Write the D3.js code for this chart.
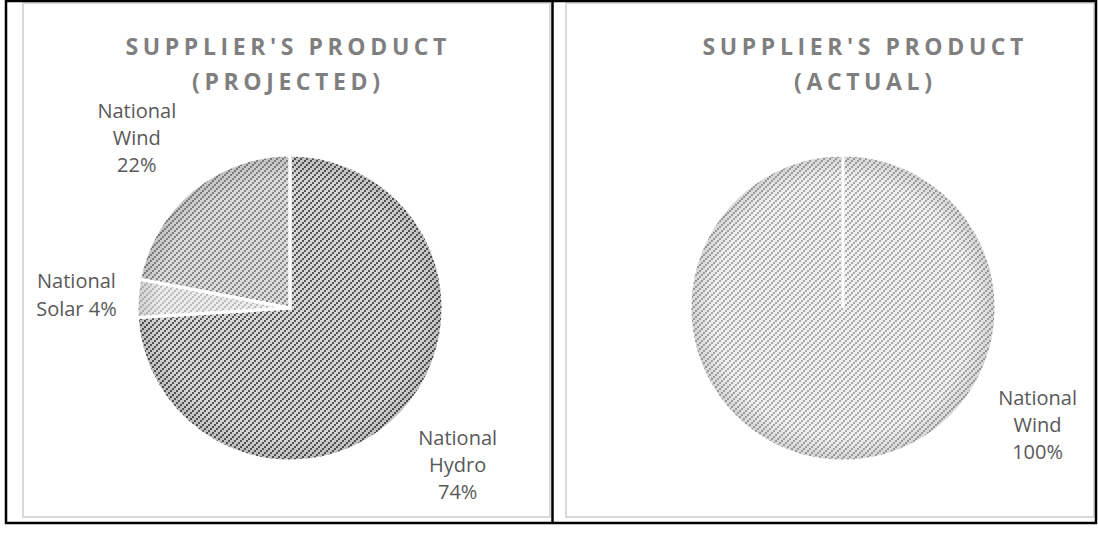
<!DOCTYPE html>
<html lang="en">
    <head>
        <meta charset="UTF-8" />
        <title>Supplier's product</title>
        <script src="https://d3js.org/d3.v7.min.js"></script>
        <style>
            body { margin: 0; background: #fff; }
            text { font-family: "Open Sans", "DejaVu Sans", sans-serif; }
        </style>
    </head>
    <body>
        <div class="canvas"></div>
        <script>
            // data
            const projectedLabels = ["National Hydro", "National Solar", "National Wind"];
            const projectedValues = [74, 4, 22];
            const actualLabels = ["National Wind"];
            const actualValues = [100];
            const titles = [["SUPPLIER'S PRODUCT", "(PROJECTED)"], ["SUPPLIER'S PRODUCT", "(ACTUAL)"]];

            const width = 1098;
            const height = 556;

            const svg = d3
                .select(".canvas")
                .append("svg")
                .attr("width", width)
                .attr("height", height);

            const defs = svg.append("defs");

            // striped fills, 6x6 tile with 2x2 steps going "/"
            function stripes(id, fg, bg) {
                const p = defs
                    .append("pattern")
                    .attr("id", id)
                    .attr("patternUnits", "userSpaceOnUse")
                    .attr("width", 6)
                    .attr("height", 6);
                p.append("rect").attr("width", 6).attr("height", 6).attr("fill", bg);
                [[4, 0], [2, 2], [0, 4]].forEach(([x, y]) => {
                    p.append("rect")
                        .attr("x", x)
                        .attr("y", y)
                        .attr("width", 2)
                        .attr("height", 2)
                        .attr("fill", fg);
                });
            }
            stripes("p-hydro", "#555555", "#d6d6d6");
            stripes("p-wind", "#878787", "#dadada");
            stripes("p-solar", "#bcbcbc", "#ececec");
            stripes("p-wind2", "#a8a8a8", "#f1f1f1");

            // soft edge shading like the office bevel
            const shade = defs
                .append("radialGradient")
                .attr("id", "shade")
                .attr("gradientUnits", "objectBoundingBox");
            shade.append("stop").attr("offset", "0.85").attr("stop-color", "#000").attr("stop-opacity", 0);
            shade.append("stop").attr("offset", "1").attr("stop-color", "#000").attr("stop-opacity", 0.12);

            // panels
            const panels = [
                { x0: 23, x1: 550, titleX: 286, cx: 290, cy: 308 },
                { x0: 566, x1: 1094, titleX: 863, cx: 843, cy: 308 },
            ];
            const panelTop = 3;
            const panelBottom = 517;
            const radius = 153;

            panels.forEach((p) => {
                svg.append("rect")
                    .attr("x", p.x0)
                    .attr("y", panelTop)
                    .attr("width", p.x1 - p.x0)
                    .attr("height", panelBottom - panelTop)
                    .attr("fill", "#fff")
                    .attr("stroke", "#d9d9d9")
                    .attr("stroke-width", 2);
            });

            // outer table lines
            const frame = svg.append("g").attr("stroke", "#000").attr("stroke-width", 2.5);
            frame.append("line").attr("x1", 5).attr("x2", 1097).attr("y1", 1).attr("y2", 1);
            frame.append("line").attr("x1", 5).attr("x2", 1097).attr("y1", 523).attr("y2", 523);
            frame.append("line").attr("x1", 6).attr("x2", 6).attr("y1", 0).attr("y2", 524);
            frame.append("line").attr("x1", 552.5).attr("x2", 552.5).attr("y1", 0).attr("y2", 524);
            frame.append("line").attr("x1", 1096).attr("x2", 1096).attr("y1", 0).attr("y2", 524);

            // titles
            const spacing = 4.6;
            panels.forEach((p, i) => {
                const t = svg
                    .append("text")
                    .attr("y", 55)
                    .attr("text-anchor", "middle")
                    .attr("fill", "#7f7f7f")
                    .style("font-size", "23px")
                    .style("font-weight", "bold")
                    .style("letter-spacing", spacing + "px");
                titles[i].forEach((line, j) => {
                    t.append("tspan")
                        .attr("x", p.titleX + spacing / 2)
                        .attr("dy", j === 0 ? 0 : 35)
                        .text(line);
                });
            });

            const pie = d3.pie().sort(null).value((d) => d.value);
            const arc = d3.arc().innerRadius(0).outerRadius(radius);
            const TAU = Math.PI * 2;

            function drawPie(p, labels, values, fills, labelPos) {
                const data = labels.map((l, i) => ({ label: l, value: values[i] }));
                const total = d3.sum(values);
                const g = svg.append("g").attr("transform", `translate(${p.cx}, ${p.cy})`);
                const arcs = pie(data).map((d) => ({
                    ...d,
                    endAngle: Math.min(d.endAngle, TAU - 1e-4),
                }));

                g.selectAll("path.slice")
                    .data(arcs)
                    .enter()
                    .append("path")
                    .attr("class", "slice")
                    .attr("d", arc)
                    .attr("fill", (d, i) => `url(#${fills[i]})`);

                g.append("circle").attr("r", radius).attr("fill", "url(#shade)");

                g.selectAll("path.edge")
                    .data(arcs)
                    .enter()
                    .append("path")
                    .attr("class", "edge")
                    .attr("d", arc)
                    .attr("fill", "none")
                    .attr("stroke", "#fff")
                    .attr("stroke-width", 3)
                    .attr("stroke-linejoin", "miter");

                // labels placed outside the pie along an angle
                arcs.forEach((d, i) => {
                    const lp = labelPos[i];
                    const a = lp.angle !== undefined ? lp.angle : (d.startAngle + d.endAngle) / 2;
                    const x = Math.sin(a) * lp.r;
                    const y = -Math.cos(a) * lp.r;
                    const pct = Math.round((d.data.value / total) * 100) + "%";
                    const words = d.data.label.split(" ");
                    const lines = lp.join ? [words[0], words[1] + " " + pct] : [words[0], words[1], pct];
                    const lh = lp.lh || 27;
                    const t = g
                        .append("text")
                        .attr("text-anchor", "middle")
                        .attr("fill", "#595959")
                        .style("font-size", "20px");
                    lines.forEach((ln, k) => {
                        t.append("tspan")
                            .attr("x", x)
                            .attr("y", y + (k - (lines.length - 1) / 2) * lh + 7)
                            .text(ln);
                    });
                });
            }

            const deg = Math.PI / 180;
            drawPie(panels[0], projectedLabels, projectedValues, ["p-hydro", "p-solar", "p-wind"], [
                { r: 230 },
                { r: 214, join: true, lh: 28 },
                { r: 229, angle: 318 * deg, lh: 27 },
            ]);
            drawPie(panels[1], actualLabels, actualValues, ["p-wind2"], [
                { r: 227, angle: 121 * deg, lh: 27 },
            ]);
        </script>
    </body>
</html>
